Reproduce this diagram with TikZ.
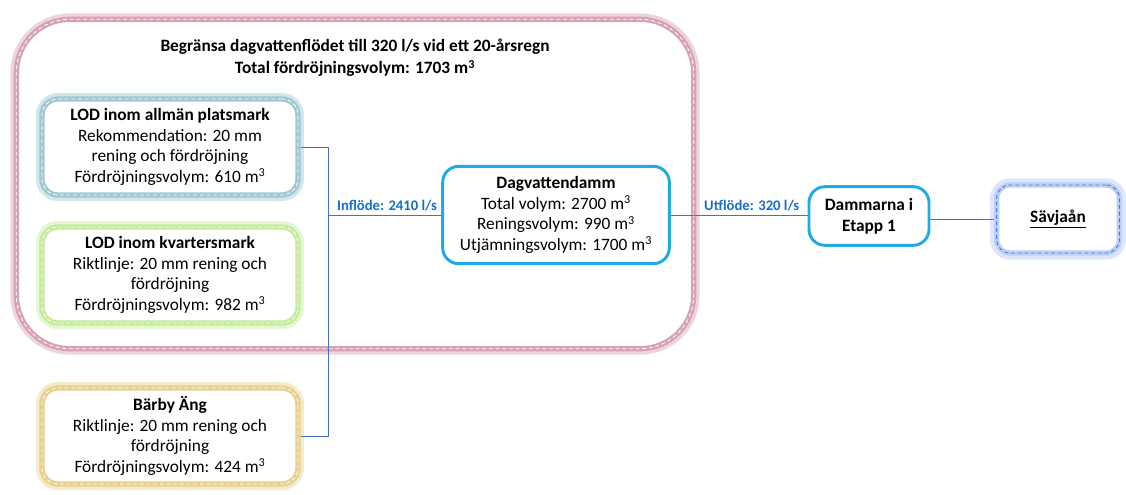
\documentclass[tikz,border=0pt]{standalone}
\usepackage{fontspec}
\setmainfont{Carlito}
\usepackage{tikz}
\usetikzlibrary{positioning}
\definecolor{zonepink}{RGB}{214,162,180}
\definecolor{lodteal}{RGB}{160,200,210}
\definecolor{lodgreen}{RGB}{196,236,156}
\definecolor{lodtan}{RGB}{230,210,140}
\definecolor{dammblue}{RGB}{30,170,230}
\definecolor{riverblue}{RGB}{70,120,230}
\definecolor{linkblue}{RGB}{68,114,196}
\definecolor{labelblue}{RGB}{20,110,200}
\tikzset{glowbox/.style={draw=#1, line width=4pt, fill=white, rectangle, rounded corners=12pt,
    preaction={draw=#1!45, line width=9pt},
    postaction={draw=white, line width=0.6pt, dash pattern=on 3pt off 2pt}}}
\tikzstyle{riverbox} = [draw=riverblue!35, line width=4pt, fill=white, rectangle, rounded corners=10pt,
    preaction={draw=riverblue!18, line width=10pt},
    postaction={draw=riverblue, line width=0.7pt, dash pattern=on 3pt off 2pt}]
\tikzstyle{lodbox} = [align=center, font=\fontsize{13}{15.5}\selectfont, minimum width=192pt, minimum height=72pt, inner sep=2pt]
\tikzstyle{dammbox} = [draw=dammblue, line width=2.2pt, fill=white, rectangle, rounded corners=12pt, align=center, inner sep=2pt]
\tikzstyle{link} = [draw=linkblue, line width=0.6pt]
\tikzstyle{flowlabel} = [text=labelblue, font=\fontsize{11}{13}\bfseries\selectfont, inner sep=1pt]

\begin{document}
\begin{tikzpicture}[x=0.75pt,y=-0.75pt]
\useasboundingbox (0,0) rectangle (1126,494);

% outer zone
\node [glowbox=zonepink, rounded corners=40pt, minimum width=508pt, minimum height=247pt] (zone) at (355,184) {};
\node [align=center, font=\fontsize{13}{16.5}\bfseries\selectfont] (title) at (355,58) {%
    Begränsa dagvattenflödet till 320 l/s vid ett 20-årsregn\\
    Total fördröjningsvolym: 1703 m\textsuperscript{3}};

\node [glowbox=lodteal, lodbox] (allman) at (170,147) {%
    \textbf{LOD inom allmän platsmark}\\
    Rekommendation: 20 mm\\
    rening och fördröjning\\
    Fördröjningsvolym: 610 m\textsuperscript{3}};
\node [glowbox=lodgreen, lodbox] (kvarter) at (170,275) {%
    \textbf{LOD inom kvartersmark}\\
    Riktlinje: 20 mm rening och\\
    fördröjning\\
    Fördröjningsvolym: 982 m\textsuperscript{3}};
\node [glowbox=lodtan, lodbox] (barby) at (170,436) {%
    \textbf{Bärby Äng}\\
    Riktlinje: 20 mm rening och\\
    fördröjning\\
    Fördröjningsvolym: 424 m\textsuperscript{3}};

\node [dammbox, font=\fontsize{13}{15.5}\selectfont, minimum width=170pt, minimum height=73pt] (damm) at (556,215) {%
    \textbf{Dagvattendamm}\\
    Total volym: 2700 m\textsuperscript{3}\\
    Reningsvolym: 990 m\textsuperscript{3}\\
    Utjämningsvolym: 1700 m\textsuperscript{3}};
\node [dammbox, font=\fontsize{13}{15.5}\bfseries\selectfont, minimum width=90pt, minimum height=44pt] (etapp) at (869,216) {%
    Dammarna i\\Etapp 1};
\node [riverbox, minimum width=92pt, minimum height=51pt, font=\fontsize{13}{15.5}\bfseries\selectfont] (savja) at (1058,219) {\underline{Sävjaån}};

% connectors
\coordinate (bus) at (328,215);
\draw [link] (allman.east) -| (bus) -- (damm.west);
\draw [link] (barby.east) -| (bus);
\draw [link] (damm.east) -- (damm.east -| etapp.west);
\draw [link] (etapp.east |- savja.west) -- (savja.west);

\node [flowlabel, anchor=south east] (inflow) at ([xshift=-2pt,yshift=2pt]damm.west) {Inflöde: 2410 l/s};
\node [flowlabel, anchor=south east] (outflow) at ([xshift=-5pt,yshift=2pt]damm.east -| etapp.west) {Utflöde: 320 l/s};
\end{tikzpicture}
\end{document}
